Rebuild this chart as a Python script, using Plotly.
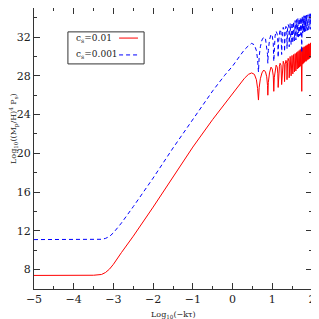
import plotly.graph_objects as go

# ---- data ----
red_x = [-5.0, -4.0, -3.5, -3.3, -3.2, -3.1, -3.0, -2.8, -2.5, -2.0, -1.5, -1.0, -0.5, -0.2, 0.0,
         0.2, 0.3, 0.4, 0.48, 0.55, 0.6, 0.63, 0.652, 0.67, 0.70, 0.74, 0.785, 0.83, 0.86, 0.88,
         0.888, 0.90, 0.93, 0.968, 1.00, 1.025, 1.038, 1.05, 1.07, 1.097, 1.125, 1.14, 1.148,
         1.16, 1.18, 1.196, 1.22, 1.236, 1.255, 1.276, 1.30, 1.309, 1.325, 1.344, 1.365, 1.371,
         1.385, 1.400, 1.420, 1.426, 1.45, 1.474, 1.497, 1.518, 1.538, 1.558, 1.576, 1.594,
         1.611, 1.628, 1.644, 1.660, 1.675, 1.689, 1.703, 1.716, 1.729, 1.742, 1.754, 1.766,
         1.778, 1.789, 1.800, 1.811, 1.822, 1.832, 1.842, 1.852, 1.862, 1.871, 1.880, 1.889,
         1.898, 1.906, 1.915, 1.923, 1.931, 1.939, 1.947, 1.955, 1.963, 1.970, 1.978, 1.985,
         1.992, 2.0]
red_y = [7.40, 7.40, 7.42, 7.50, 7.70, 8.05, 8.55, 9.75, 11.45, 14.45, 17.60, 20.65, 23.50, 25.10, 26.10,
         27.20, 27.75, 28.15, 28.30, 28.15, 27.6, 26.7, 25.5, 26.8, 27.7, 28.3, 28.6, 28.4, 27.9, 27.0,
         26.0, 27.3, 28.3, 28.9, 28.7, 28.0, 26.4, 27.8, 28.7, 29.1, 28.9, 28.2, 26.8,
         28.2, 29.0, 29.3, 29.1, 27.1, 29.0, 29.5, 29.2, 27.4, 29.2, 29.6, 29.3, 27.6,
         29.4, 29.8, 29.5, 27.8, 30.0, 28.0, 30.1, 28.2, 30.2, 28.4, 30.3, 28.5,
         30.4, 28.7, 30.5, 28.8, 30.6, 28.9, 30.7, 29.0, 30.8, 26.4, 30.9, 29.2,
         30.9, 29.3, 31.0, 29.4, 31.0, 29.5, 31.1, 29.5, 31.1, 29.6, 31.2, 29.7,
         31.2, 29.7, 31.3, 29.8, 31.3, 29.8, 31.3, 29.9, 31.4, 29.9, 31.4, 30.0,
         31.4, 30.6]

blue_x = list(red_x)
blue_y = [11.10, 11.10, 11.10, 11.13, 11.22, 11.42, 11.80, 12.80, 14.50, 17.45, 20.55, 23.55, 26.45, 28.05, 29.00,
          30.15, 30.70, 31.10, 31.35, 31.20, 30.6, 29.7, 28.4, 30.0, 31.0, 31.7, 32.0, 31.8, 31.1, 30.2,
          29.3, 30.6, 31.7, 32.3, 32.1, 31.3, 29.5, 31.2, 32.1, 32.6, 32.3, 31.5, 29.9,
          31.6, 32.5, 32.8, 32.5, 30.2, 32.4, 33.0, 32.7, 30.5, 32.6, 33.1, 32.8, 30.8,
          32.9, 33.3, 33.0, 31.0, 33.4, 31.2, 33.5, 31.4, 33.6, 31.6, 33.7, 31.7,
          33.8, 31.9, 33.9, 32.0, 33.9, 32.1, 34.0, 32.2, 34.0, 30.4, 34.1, 32.4,
          34.1, 32.5, 34.2, 32.5, 34.2, 32.6, 34.2, 32.6, 34.3, 32.7, 34.3, 32.7,
          34.3, 32.7, 34.3, 32.8, 34.4, 32.8, 34.4, 32.8, 34.4, 32.9, 34.4, 32.9,
          34.4, 33.6]

x_ticks = [-5, -4, -3, -2, -1, 0, 1, 2]
x_labels = ["\u22125", "\u22124", "\u22123", "\u22122", "\u22121", "0", "1", "2"]
y_ticks = [8, 12, 16, 20, 24, 28, 32]
legend_labels = ["c<sub>s</sub>=0.01", "c<sub>s</sub>=0.001"]

FONT = "DejaVu Serif, Liberation Serif, serif"
AX = "#333333"
TXT = "#222222"

fig = go.Figure()
fig.add_trace(go.Scatter(x=red_x, y=red_y, mode="lines", line=dict(color="red", width=1),
                         name=legend_labels[0], showlegend=False))
fig.add_trace(go.Scatter(x=blue_x, y=blue_y, mode="lines",
                         line=dict(color="blue", width=1, dash="4px,3px"),
                         name=legend_labels[1], showlegend=False))

axis_common = dict(showline=True, linecolor=AX, linewidth=1, mirror="allticks",
                   ticks="inside", ticklen=6, tickcolor=AX, tickwidth=1,
                   showgrid=False, zeroline=False, automargin=False,
                   tickfont=dict(family=FONT, size=11, color=TXT))

fig.update_xaxes(range=[-5, 2.0001], tickvals=x_ticks, ticktext=x_labels,
                 ticklabeloverflow="allow",
                 minor=dict(ticks="inside", ticklen=3, dtick=0.5, tick0=0, tickcolor=AX, showgrid=False),
                 **axis_common)
fig.update_yaxes(range=[6, 35], tickvals=y_ticks, ticklabeloverflow="allow",
                 minor=dict(ticks="inside", ticklen=3, dtick=2, tick0=0, tickcolor=AX, showgrid=False),
                 **axis_common)

annotations = [
    dict(text="Log<sub>10</sub>(\u2212k\u03c4)", x=0.5, y=-0.068, xref="paper", yref="paper",
         showarrow=False, xanchor="center", yanchor="top", font=dict(family=FONT, size=8, color=TXT)),
    dict(text="Log<sub>10</sub>((M<sub>p</sub>/H)<sup>4</sup> P<sub>s</sub>)", x=-0.072, y=0.573,
         xref="paper", yref="paper", showarrow=False, textangle=-90, xanchor="center", yanchor="middle",
         font=dict(family=FONT, size=8, color=TXT)),
    dict(text=legend_labels[0], x=0.145, y=0.893, xref="paper", yref="paper", showarrow=False,
         xanchor="left", yanchor="middle", font=dict(family=FONT, size=9, color=TXT)),
    dict(text=legend_labels[1], x=0.145, y=0.833, xref="paper", yref="paper", showarrow=False,
         xanchor="left", yanchor="middle", font=dict(family=FONT, size=9, color=TXT)),
]
shapes = [
    dict(type="rect", xref="paper", yref="paper", x0=0.122, x1=0.396, y0=0.801, y1=0.915,
         line=dict(color=AX, width=1), fillcolor="white"),
    dict(type="line", xref="paper", yref="paper", x0=0.306, x1=0.374, y0=0.893, y1=0.893,
         line=dict(color="red", width=1)),
    dict(type="line", xref="paper", yref="paper", x0=0.306, x1=0.374, y0=0.833, y1=0.833,
         line=dict(color="blue", width=1, dash="4px,3px")),
]

# the page body adds an 8px offset, so the margins compensate for it
fig.update_layout(width=319, height=319, margin=dict(l=26, r=15, t=0, b=38),
                  plot_bgcolor="white", paper_bgcolor="white",
                  annotations=annotations, shapes=shapes, showlegend=False)

fig.write_html("out.html")
